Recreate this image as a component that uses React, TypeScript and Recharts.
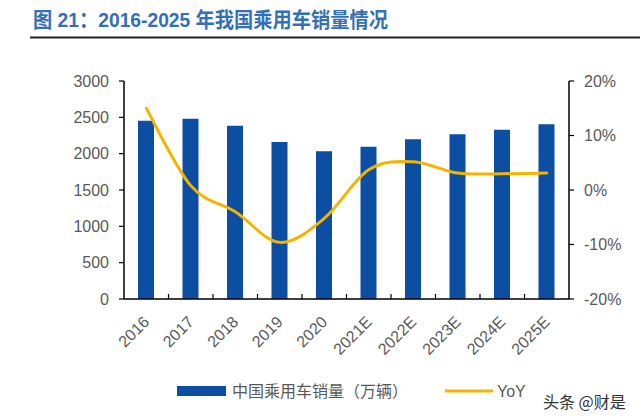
import React from 'react';
import { ComposedChart, Bar, Line, XAxis, YAxis } from 'recharts';

const CATEGORIES = ['2016', '2017', '2018', '2019', '2020', '2021E', '2022E', '2023E', '2024E', '2025E'];
const SALES = [2454, 2481, 2385, 2160, 2032, 2096, 2197, 2266, 2330, 2404];
const YOY = [0.15, 0.008, -0.04, -0.096, -0.052, 0.037, 0.052, 0.031, 0.03, 0.031];
const LEFT_TICKS = [0, 500, 1000, 1500, 2000, 2500, 3000];
const RIGHT_TICKS = [-0.2, -0.1, 0, 0.1, 0.2];

const TITLE = '图 21：2016-2025 年我国乘用车销量情况';
const LEGEND_BAR = '中国乘用车销量（万辆）';
const LEGEND_LINE = 'YoY';
const WATERMARK = '头条 @财是';

const data = CATEGORIES.map((c, i) => ({ name: c, sales: SALES[i], yoy: YOY[i] }));

const BAR_COLOR = '#0b4ea2';
const LINE_COLOR = '#f5b400';
const TEXT_COLOR = '#595959';
const NUM_FONT = '"Liberation Sans", Arial, sans-serif';
const CJK_FONT = '"Noto Sans CJK SC", sans-serif';

// Catmull-Rom style smoothing (like spreadsheet "smoothed line")
const smoothCurve: any = (context: any) => {
  let pts: number[][] = [];
  return {
    areaStart() {},
    areaEnd() {},
    lineStart() { pts = []; },
    point(x: number, y: number) { pts.push([+x, +y]); },
    lineEnd() {
      if (!pts.length) return;
      context.moveTo(pts[0][0], pts[0][1]);
      for (let i = 0; i < pts.length - 1; i++) {
        const p0 = pts[i - 1] || pts[i];
        const p1 = pts[i];
        const p2 = pts[i + 1];
        const p3 = pts[i + 2] || p2;
        context.bezierCurveTo(
          p1[0] + (p2[0] - p0[0]) / 6, p1[1] + (p2[1] - p0[1]) / 6,
          p2[0] - (p3[0] - p1[0]) / 6, p2[1] - (p3[1] - p1[1]) / 6,
          p2[0], p2[1]
        );
      }
    },
  };
};

const XTick = (props: any) => {
  const { x, y, payload, index } = props;
  const half = payload && payload.offset ? payload.offset : 22.25;
  const ax = x + 4;
  const ay = y + 24;
  return (
    <g>
      {index < CATEGORIES.length - 1 && (
        <line x1={x + half} x2={x + half} y1={y} y2={y - 5} stroke="#000" strokeWidth={1.2} />
      )}
      <text
        x={ax}
        y={ay}
        transform={`rotate(-45, ${ax}, ${ay})`}
        textAnchor="end"
        fontSize={16}
        fill={TEXT_COLOR}
        fontFamily={NUM_FONT}
      >
        {payload.value}
      </text>
    </g>
  );
};

export default function App() {
  return (
    <div style={{ position: 'absolute', left: 0, top: 0, width: 640, height: 418, background: '#fff', overflow: 'hidden' }}>
      <ComposedChart
        width={640}
        height={418}
        data={data}
        margin={{ top: 81, right: 11, bottom: 59, left: 64 }}
      >
        <XAxis
          dataKey="name"
          height={60}
          interval={0}
          tickSize={0}
          tickMargin={0}
          tickLine={false}
          axisLine={{ stroke: '#000', strokeWidth: 1.5 }}
          tick={<XTick />}
        />
        <YAxis
          yAxisId="l"
          width={60}
          domain={[0, 3000]}
          ticks={LEFT_TICKS}
          interval={0}
          tickSize={5}
          tickMargin={10}
          axisLine={{ stroke: '#000', strokeWidth: 1.5 }}
          tickLine={{ stroke: '#000', strokeWidth: 1.2 }}
          tick={{ fontSize: 16, fill: TEXT_COLOR, fontFamily: NUM_FONT }}
        />
        <YAxis
          yAxisId="r"
          orientation="right"
          width={60}
          domain={[-0.2, 0.2]}
          ticks={RIGHT_TICKS}
          interval={0}
          tickSize={5}
          tickMargin={10}
          axisLine={{ stroke: '#000', strokeWidth: 1.5 }}
          tickLine={{ stroke: '#000', strokeWidth: 1.2 }}
          tickFormatter={(v: number) => `${Math.round(v * 100)}%`}
          tick={{ fontSize: 16, fill: TEXT_COLOR, fontFamily: NUM_FONT, textAnchor: 'start' }}
        />
        <Bar yAxisId="l" dataKey="sales" fill={BAR_COLOR} barSize={16} isAnimationActive={false} />
        <Line
          yAxisId="r"
          dataKey="yoy"
          type={smoothCurve}
          stroke={LINE_COLOR}
          strokeWidth={3}
          strokeLinecap="round"
          dot={false}
          activeDot={false}
          isAnimationActive={false}
        />
      </ComposedChart>
      <svg width={640} height={418} style={{ position: 'absolute', left: 0, top: 0, pointerEvents: 'none' }}>
        <text
          x={33}
          y={27}
          fontSize={21}
          fontWeight="bold"
          fill="#3370b7"
          fontFamily={`"Liberation Sans", Arial, ${CJK_FONT}`}
          textLength={355}
          lengthAdjust="spacingAndGlyphs"
        >
          {TITLE}
        </text>
        <line x1={30} x2={640} y1={37.5} y2={37.5} stroke="#222" strokeWidth={2} />
        {/* legend */}
        <rect x={177} y={386} width={49} height={10} fill={BAR_COLOR} />
        <text x={232} y={397} fontSize={16} fill={TEXT_COLOR} fontFamily={CJK_FONT} textLength={176} lengthAdjust="spacingAndGlyphs">
          {LEGEND_BAR}
        </text>
        <line x1={445} x2={493} y1={391} y2={391} stroke={LINE_COLOR} strokeWidth={3} />
        <text x={497} y={397} fontSize={16} fill={TEXT_COLOR} fontFamily={NUM_FONT}>
          {LEGEND_LINE}
        </text>
        <text x={543} y={408} fontSize={16} fill="#333" fontFamily={CJK_FONT}>
          {WATERMARK}
        </text>
      </svg>
    </div>
  );
}
